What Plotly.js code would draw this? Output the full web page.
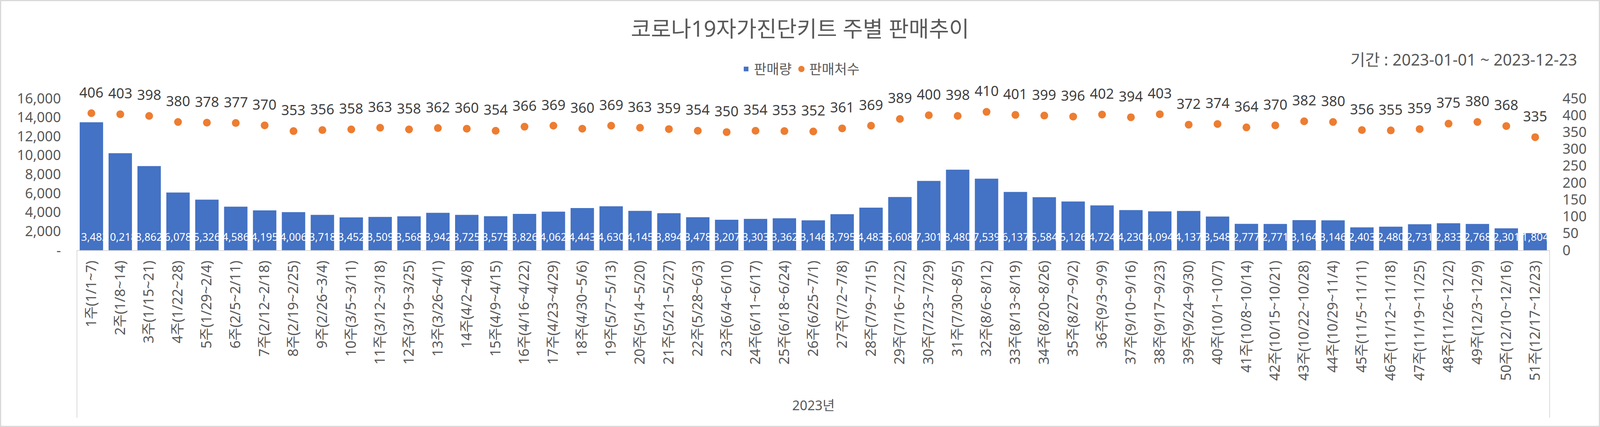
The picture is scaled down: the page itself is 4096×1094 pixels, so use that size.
<!DOCTYPE html>
<html>
<head>
<meta charset="utf-8">
<script src="https://cdn.plot.ly/plotly-3.0.1.min.js"></script>
<style>
html,body{margin:0;padding:0;background:#fff;}
#chart{position:absolute;left:0;top:0;width:4096px;height:1094px;}
#frame{position:absolute;left:0;top:0;width:4096px;height:1094px;box-sizing:border-box;border:3px solid #d9d9d9;pointer-events:none;}
</style>
</head>
<body>
<div id="chart"></div>
<div id="frame"></div>
<script>
// ---- data ----
const weeks = [
  '1주(1/1~7)','2주(1/8~14)','3주(1/15~21)','4주(1/22~28)','5주(1/29~2/4)',
  '6주(2/5~2/11)','7주(2/12~2/18)','8주(2/19~2/25)','9주(2/26~3/4)','10주(3/5~3/11)',
  '11주(3/12~3/18)','12주(3/19~3/25)','13주(3/26~4/1)','14주(4/2~4/8)','15주(4/9~4/15)',
  '16주(4/16~4/22)','17주(4/23~4/29)','18주(4/30~5/6)','19주(5/7~5/13)','20주(5/14~5/20)',
  '21주(5/21~5/27)','22주(5/28~6/3)','23주(6/4~6/10)','24주(6/11~6/17)','25주(6/18~6/24)',
  '26주(6/25~7/1)','27주(7/2~7/8)','28주(7/9~7/15)','29주(7/16~7/22)','30주(7/23~7/29)',
  '31주(7/30~8/5)','32주(8/6~8/12)','33주(8/13~8/19)','34주(8/20~8/26)','35주(8/27~9/2)',
  '36주(9/3~9/9)','37주(9/10~9/16)','38주(9/17~9/23)','39주(9/24~9/30)','40주(10/1~10/7)',
  '41주(10/8~10/14)','42주(10/15~10/21)','43주(10/22~10/28)','44주(10/29~11/4)','45주(11/5~11/11)',
  '46주(11/12~11/18)','47주(11/19~11/25)','48주(11/26~12/2)','49주(12/3~12/9)','50주(12/10~12/16)',
  '51주(12/17~12/23)'
];
const sales = [
  13482,10218,8862,6078,5326,4586,4195,4006,3718,3452,
  3509,3568,3942,3725,3575,3826,4062,4443,4630,4145,
  3894,3478,3207,3303,3362,3146,3795,4483,5608,7301,
  8480,7539,6137,5584,5126,4724,4230,4094,4137,3548,
  2777,2771,3164,3146,2403,2480,2731,2833,2768,2301,
  1804
];
const stores = [
  406,403,398,380,378,377,370,353,356,358,
  363,358,362,360,354,366,369,360,369,363,
  359,354,350,354,353,352,361,369,389,400,
  398,410,401,399,396,402,394,403,372,374,
  364,370,382,380,356,355,359,375,380,368,
  335
];
const leftTicks = [0,2000,4000,6000,8000,10000,12000,14000,16000];
const leftTickText = ['-','2,000','4,000','6,000','8,000','10,000','12,000','14,000','16,000'];
const titleText = '코로나19자가진단키트 주별 판매추이';
const periodText = '기간 : 2023-01-01 ~ 2023-12-23';
const yearText = '2023년';
const salesName = '판매량';
const storesName = '판매처수';

// ---- styles ----
const FONT = 'Noto Sans, Noto Sans CJK KR, sans-serif';
const GREY = '#595959';
const fmt = v => v.toLocaleString('en-US');

const W = 4096, H = 1094;
const M = {l:197, r:129, t:252, b:453};
const plotH = H - M.t - M.b;
const plotW = W - M.l - M.r;

const traces = [
  {
    type:'bar', name: salesName, x: weeks, y: sales,
    marker:{color:'#4472C4'}, hoverinfo:'skip'
  },
  {
    type:'scatter', mode:'markers', name: storesName, x: weeks, y: stores, yaxis:'y2',
    marker:{color:'#ED7D31', size:20}, hoverinfo:'skip', cliponaxis:false
  }
];

const annotations = [];
weeks.forEach((w,i) => {
  annotations.push({
    x: w, y: 0, xref:'x', yref:'y', text: fmt(sales[i]), showarrow:false,
    yanchor:'middle', yshift:35, font:{family:FONT, size:27, color:'#ffffff'}
  });
});
weeks.forEach((w,i) => {
  annotations.push({
    x: w, y: stores[i], xref:'x', yref:'y2', text: String(stores[i]), showarrow:false,
    yanchor:'middle', yshift:54, font:{family:FONT, size:36, color:'#404040'}
  });
});
annotations.push({
  xref:'paper', yref:'paper', x: (4040 - M.l)/plotW, y: (H - M.b - 152)/plotH,
  xanchor:'right', yanchor:'middle', text: periodText, showarrow:false,
  font:{family:FONT, size:41, color:GREY}
});
annotations.push({
  xref:'paper', yref:'paper', x: 0.5, y: -(1038 - (H - M.b))/plotH,
  xanchor:'center', yanchor:'middle', text: yearText, showarrow:false,
  font:{family:FONT, size:34, color:GREY}
});

const divY = -(1070 - (H - M.b))/plotH;
const shapes = [0,1].map(px => ({
  type:'line', xref:'paper', yref:'paper', x0:px, x1:px, y0:0, y1:divY,
  line:{color:'#d9d9d9', width:2}
}));

const layout = {
  width: W, height: H,
  margin: M,
  paper_bgcolor:'#ffffff', plot_bgcolor:'#ffffff',
  font:{family:FONT, color:GREY},
  title:{
    text: titleText, xref:'container', x:0.5, xanchor:'center',
    yref:'container', y: 1 - 74/H, yanchor:'middle',
    font:{family:FONT, size:56, color:GREY}
  },
  showlegend:true,
  legend:{
    orientation:'h', xref:'container', x:0.5, xanchor:'center',
    yref:'container', y: 1 - 177/H, yanchor:'middle',
    font:{family:FONT, size:35, color:GREY}, traceorder:'normal'
  },
  bargap:0.19,
  xaxis:{
    type:'category', autorange:false, range:[-0.5, weeks.length - 0.5],
    tickangle:-90, tickfont:{family:FONT, size:36, color:GREY},
    showline:true, linecolor:'#d9d9d9', linewidth:2, ticks:'', ticklabelstandoff:10,
    showgrid:false, zeroline:false, fixedrange:true
  },
  yaxis:{
    autorange:false, range:[0,16000], tickmode:'array', tickvals:leftTicks, ticktext:leftTickText,
    tickfont:{family:FONT, size:36, color:GREY}, showgrid:false, zeroline:false,
    showline:false, ticks:'', ticklabelstandoff:40, fixedrange:true
  },
  yaxis2:{
    overlaying:'y', side:'right', autorange:false, range:[0,450], tick0:0, dtick:50,
    tickfont:{family:FONT, size:36, color:GREY}, showgrid:false, zeroline:false,
    showline:false, ticks:'', ticklabelstandoff:32, fixedrange:true
  },
  annotations: annotations,
  shapes: shapes
};

Plotly.newPlot('chart', traces, layout, {displayModeBar:false, staticPlot:true});
</script>
</body>
</html>
